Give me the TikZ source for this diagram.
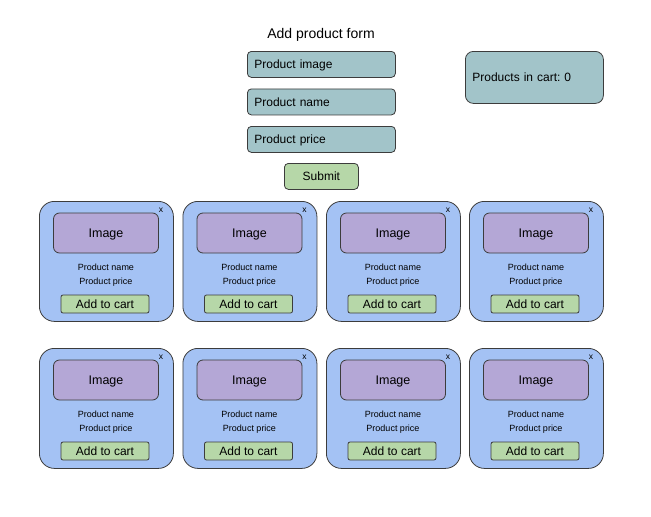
\documentclass[tikz,border=0pt]{standalone}
\usepackage{fontspec}
\setmainfont{Liberation Sans}
\usetikzlibrary{calc}
\frenchspacing
\definecolor{teal}{HTML}{A2C4C9}
\definecolor{grn}{HTML}{B6D7A8}
\definecolor{blu}{HTML}{A4C2F4}
\definecolor{purp}{HTML}{B4A7D6}
\definecolor{edge}{HTML}{3C3C3C}
\begin{document}
\begin{tikzpicture}[x=1pt,y=-1pt,
  base/.style={draw=edge, line width=0.8pt, inner sep=0pt, font=\fontsize{12}{14}\selectfont, text height=8.8pt, text depth=0pt},
  inp/.style={base, fill=teal, rounded corners=4pt, minimum width=148pt, minimum height=26pt, text width=134pt, align=left, anchor=north west},
  btn/.style={base, fill=grn, rounded corners=4pt, anchor=north west},
  cart/.style={base, fill=teal, rounded corners=8pt, minimum width=138pt, minimum height=52pt, text width=124pt, align=left, anchor=north west},
  card/.style={base, fill=blu, rounded corners=15pt, minimum width=134pt, minimum height=120pt, anchor=north west},
  img/.style={base, fill=purp, rounded corners=6pt, minimum width=105pt, minimum height=40pt, font=\fontsize{12.5}{14}\selectfont},
  small/.style={inner sep=0pt, font=\fontsize{9}{10}\selectfont, text height=6.5pt, text depth=0pt},
  addc/.style={base, fill=grn, rounded corners=2pt, minimum width=88pt, minimum height=18pt},
  xlab/.style={inner sep=0pt, font=\fontsize{8.5}{10}\selectfont}
]
\useasboundingbox (0,0) rectangle (651,517);
\node[inner sep=0pt, font=\fontsize{14}{16}\selectfont, text height=10pt, text depth=0pt] (title) at (321,33) {Add product form};
\node[inp] (pimg) at (247,51) {Product image};
\node[inp] (pname) at (247,88.5) {Product name};
\node[inp] (pprice) at (247,126) {Product price};
\node[btn, minimum width=74pt, minimum height=26pt] (submit) at (284,163) {Submit};
\node[cart] (cartbox) at (465,51) {Products in cart: 0};
\foreach \r/\ty in {1/201, 2/348} {
  \foreach \i/\lx in {1/39, 2/182.5, 3/326, 4/469} {
    \node[card] (card\r\i) at (\lx,\ty) {};
    \node[img] (img\r\i) at ($(\lx,\ty)+(67,32)$) {Image};
    \node[small] (name\r\i) at ($(\lx,\ty)+(67,66)$) {Product name};
    \node[small] (price\r\i) at ($(\lx,\ty)+(67,80.5)$) {Product price};
    \node[addc] (add\r\i) at ($(\lx,\ty)+(66,103)$) {Add to cart};
    \node[xlab] (x\r\i) at ($(\lx,\ty)+(122,9)$) {x};
  }
}
\end{tikzpicture}
\end{document}
